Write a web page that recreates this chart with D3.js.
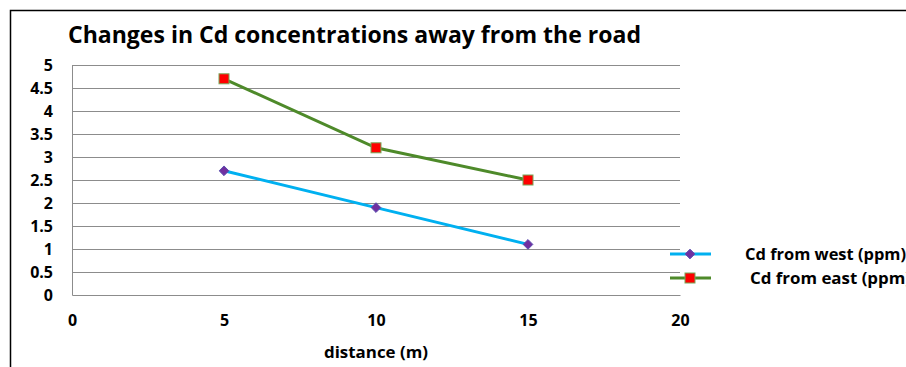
<!DOCTYPE html>
<html><head><meta charset="utf-8">
<script src="https://cdn.jsdelivr.net/npm/d3@7/dist/d3.min.js"></script>
<style>body{margin:0;background:#fff;}svg{display:block;font-family:"Open Sans",sans-serif;}</style>
</head><body>
<svg id="c" width="906" height="367"></svg>
<script>
const distances = [5, 10, 15];
const westValues = [2.7, 1.9, 1.1];
const eastValues = [4.7, 3.2, 2.5];
const xTicks = [0, 5, 10, 15, 20];
const yTicks = [0, 0.5, 1, 1.5, 2, 2.5, 3, 3.5, 4, 4.5, 5];
const seriesNames = ["Cd from west (ppm)", "Cd from east (ppm)"];
const titleText = "Changes in Cd concentrations away from the road";
const xLabel = "distance (m)";

const svg = d3.select("#c");
const x = d3.scaleLinear().domain([0, 20]).range([72, 680]);
const y = d3.scaleLinear().domain([0, 5]).range([295, 65]);

// outer border
svg.append("path").attr("d", "M10.5,367 V10.5 H906").attr("fill", "none").attr("stroke", "#000").attr("stroke-width", 1.5);

svg.append("text").attr("x", 68).attr("y", 43).attr("font-size", 23).attr("font-weight", "bold")
  .attr("textLength", 573).attr("lengthAdjust", "spacingAndGlyphs").text(titleText);

// gridlines
svg.append("g").selectAll("line").data(yTicks.filter(d => d > 0)).join("line")
  .attr("x1", x(0)).attr("x2", x(20)).attr("y1", d => Math.round(y(d)) + 0.5).attr("y2", d => Math.round(y(d)) + 0.5)
  .attr("stroke", "#8c8c8c").attr("stroke-width", 1);

const yAxis = svg.append("g").attr("transform", `translate(${x(0)},0)`)
  .call(d3.axisLeft(y).tickValues(yTicks).tickSize(0).tickPadding(19).tickFormat(d3.format("")));
yAxis.select(".domain").attr("stroke", "#8c8c8c");
yAxis.selectAll("text").attr("font-size", 16).attr("font-weight", "bold").attr("fill", "#000").attr("font-family", "Open Sans");

const xAxis = svg.append("g").attr("transform", `translate(0,${y(0)})`)
  .call(d3.axisBottom(x).tickValues(xTicks).tickSize(0).tickPadding(20).tickFormat(d3.format("")));
xAxis.select(".domain").attr("stroke", "#8c8c8c");
xAxis.selectAll("text").attr("font-size", 16).attr("font-weight", "bold").attr("fill", "#000").attr("font-family", "Open Sans");

svg.append("text").attr("x", 376).attr("y", 358).attr("text-anchor", "middle")
  .attr("font-size", 16.5).attr("font-weight", "bold")
  .attr("textLength", 104).attr("lengthAdjust", "spacingAndGlyphs").text(xLabel);

const line = d3.line().x(d => x(d[0])).y(d => y(d[1]));
const west = distances.map((d, i) => [d, westValues[i]]);
const east = distances.map((d, i) => [d, eastValues[i]]);

const westColor = "#00b0f0", eastColor = "#4e8a2a";
svg.append("path").datum(west).attr("d", line).attr("fill", "none").attr("stroke", westColor).attr("stroke-width", 3);
svg.append("path").datum(east).attr("d", line).attr("fill", "none").attr("stroke", eastColor).attr("stroke-width", 3);

const diamond = d3.symbol().type(d3.symbolDiamond2).size(60);
svg.append("g").selectAll("path").data(west).join("path")
  .attr("transform", d => `translate(${x(d[0])},${y(d[1])})`).attr("d", diamond)
  .attr("fill", "#7030a0").attr("stroke", "#5b4fb0").attr("stroke-width", 1);
svg.append("g").selectAll("rect").data(east).join("rect")
  .attr("x", d => x(d[0]) - 5).attr("y", d => y(d[1]) - 5).attr("width", 10).attr("height", 10)
  .attr("fill", "#ff0000").attr("stroke", "#77a85a").attr("stroke-width", 1);

// legend
const lg = svg.append("g");
const ly = [254, 278];
const lx = [745, 750];
[westColor, eastColor].forEach((c, i) => {
  lg.append("line").attr("x1", 670).attr("x2", 711).attr("y1", ly[i]).attr("y2", ly[i]).attr("stroke", c).attr("stroke-width", 3);
  lg.append("text").attr("x", lx[i]).attr("y", ly[i] + 6).attr("font-size", 16.5).attr("font-weight", "bold")
    .attr("textLength", 161).attr("lengthAdjust", "spacingAndGlyphs").text(seriesNames[i]);
});
lg.append("path").attr("transform", `translate(690,${ly[0]})`).attr("d", diamond).attr("fill", "#7030a0").attr("stroke", "#5b4fb0");
lg.append("rect").attr("x", 685).attr("y", ly[1] - 5).attr("width", 10).attr("height", 10).attr("fill", "#ff0000").attr("stroke", "#77a85a");
</script>
</body></html>
